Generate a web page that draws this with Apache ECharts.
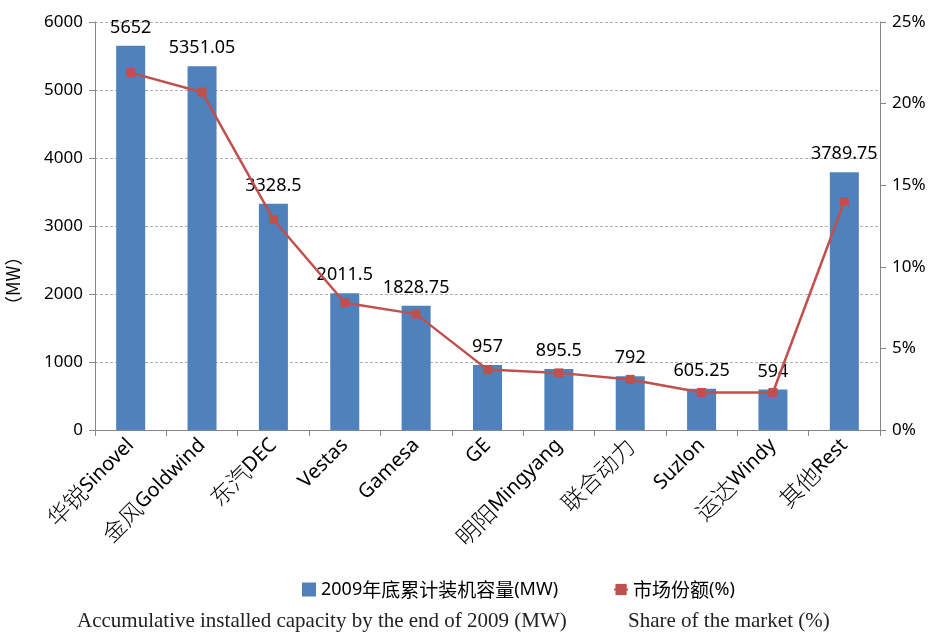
<!DOCTYPE html>
<html>
<head>
<meta charset="utf-8">
<title>2009 wind capacity</title>
<script src="https://cdn.jsdelivr.net/npm/echarts@6/dist/echarts.min.js"></script>
<style>
  * { margin: 0; padding: 0 }
  html, body { width: 100%; height: 100%; background: #fff; }
  #main { width: 937px; height: 637px; }
</style>
</head>
<body>
<div id="main"></div>
<script type="text/javascript">
// categories and values
var categories = ['华锐Sinovel', '金风Goldwind', '东汽DEC', 'Vestas', 'Gamesa', 'GE',
  '明阳Mingyang', '联合动力', 'Suzlon', '运达Windy', '其他Rest'];
var capacity = [5652, 5351.05, 3328.5, 2011.5, 1828.75, 957, 895.5, 792, 605.25, 594, 3789.75];
var share = [21.9, 20.7, 12.9, 7.8, 7.1, 3.7, 3.5, 3.1, 2.3, 2.3, 14.0];
var leftTicks = [0, 1000, 2000, 3000, 4000, 5000, 6000];
var rightTicks = [0, 5, 10, 15, 20, 25];

var font = '"Noto Sans", "Noto Sans CJK SC", sans-serif';
var chart = echarts.init(document.getElementById('main'));

// chinese part of a label gets its own (larger) style
function catLabel(v) {
  var m = v.match(/^([^\x00-\x7f]*)(.*)$/);
  var out = '';
  if (m[1]) out += '{c|' + m[1] + '}';
  if (m[2]) out += '{l|' + m[2] + '}';
  return out;
}

chart.setOption({
  animation: false,
  grid: { left: 95, right: 57, top: 22, bottom: 207, containLabel: false },
  legend: {
    bottom: 33,
    left: 297,
    itemGap: 55,
    itemWidth: 14,
    itemHeight: 14,
    textStyle: {
      color: '#000',
      rich: {}
    },
    formatter: function (name) { return catLabelLegend(name); },
    data: [
      { name: '2009年底累计装机容量(MW)', icon: 'rect' },
      { name: '市场份额(%)' }
    ]
  },
  xAxis: {
    type: 'category',
    data: categories,
    axisLine: { lineStyle: { color: '#868686' } },
    axisTick: { show: true, length: 6, lineStyle: { color: '#868686' } },
    axisLabel: {
      rotate: 45, color: '#000', margin: 12, interval: 0,
      formatter: catLabel,
      rich: {
        c: { fontSize: 23, fontWeight: 300, fontFamily: '"Noto Sans CJK SC", sans-serif', color: '#000' },
        l: { fontSize: 20, fontFamily: font, color: '#000' }
      }
    }
  },
  yAxis: [{
    type: 'value',
    min: leftTicks[0],
    max: leftTicks[leftTicks.length - 1],
    interval: 1000,
    axisLine: { show: true, lineStyle: { color: '#868686' } },
    axisTick: { show: true, length: 6, lineStyle: { color: '#868686' } },
    axisLabel: { formatter: function (v) { return String(v); }, fontSize: 17, color: '#000', fontFamily: font, margin: 12 },
    splitLine: { lineStyle: { color: '#b0b0b0', type: [3, 2] } }
  }, {
    type: 'value',
    min: rightTicks[0],
    max: rightTicks[rightTicks.length - 1],
    interval: 5,
    axisLine: { show: true, lineStyle: { color: '#868686' } },
    axisTick: { show: true, length: 6, lineStyle: { color: '#868686' } },
    axisLabel: { formatter: '{value}%', fontSize: 17, color: '#000', fontFamily: font, margin: 12 },
    splitLine: { show: false }
  }],
  series: [{
    name: '2009年底累计装机容量(MW)',
    type: 'bar',
    data: capacity,
    barWidth: 29,
    itemStyle: { color: '#4F81BD' },
    label: {
      show: true,
      position: 'top',
      distance: 9,
      fontSize: 18,
      color: '#000',
      fontFamily: font
    }
  }, {
    name: '市场份额(%)',
    type: 'line',
    yAxisIndex: 1,
    data: share,
    symbol: 'rect',
    symbolSize: 9,
    lineStyle: { color: '#C0504D', width: 2.5 },
    itemStyle: { color: '#C0504D' }
  }],
  graphic: [{
    type: 'text',
    x: 4,
    y: 314,
    rotation: Math.PI / 2,
    style: { text: '（MW）', font: '18px "Noto Sans CJK SC", sans-serif', fill: '#000' }
  }, {
    type: 'text',
    left: 77,
    top: 611,
    style: { text: 'Accumulative installed capacity by the end of 2009 (MW)', font: '21px "Liberation Serif", serif', fill: '#222' }
  }, {
    type: 'text',
    left: 628,
    top: 611,
    style: { text: 'Share of the market (%)', font: '21px "Liberation Serif", serif', fill: '#222' }
  }]
});

// legend text: chinese part a bit larger, like the axis labels
function catLabelLegend(name) {
  return name.replace(/([^\x00-\x7f]+)/g, '{c|$1}').replace(/(^|\})([\x00-\x7f]+?)(?=\{|$)/g, '$1{l|$2}');
}
chart.setOption({
  legend: {
    textStyle: {
      rich: {
        c: { fontSize: 19, fontFamily: '"Noto Sans CJK SC", sans-serif', color: '#000' },
        l: { fontSize: 18, fontFamily: font, color: '#000' }
      }
    }
  }
});
</script>
</body>
</html>
